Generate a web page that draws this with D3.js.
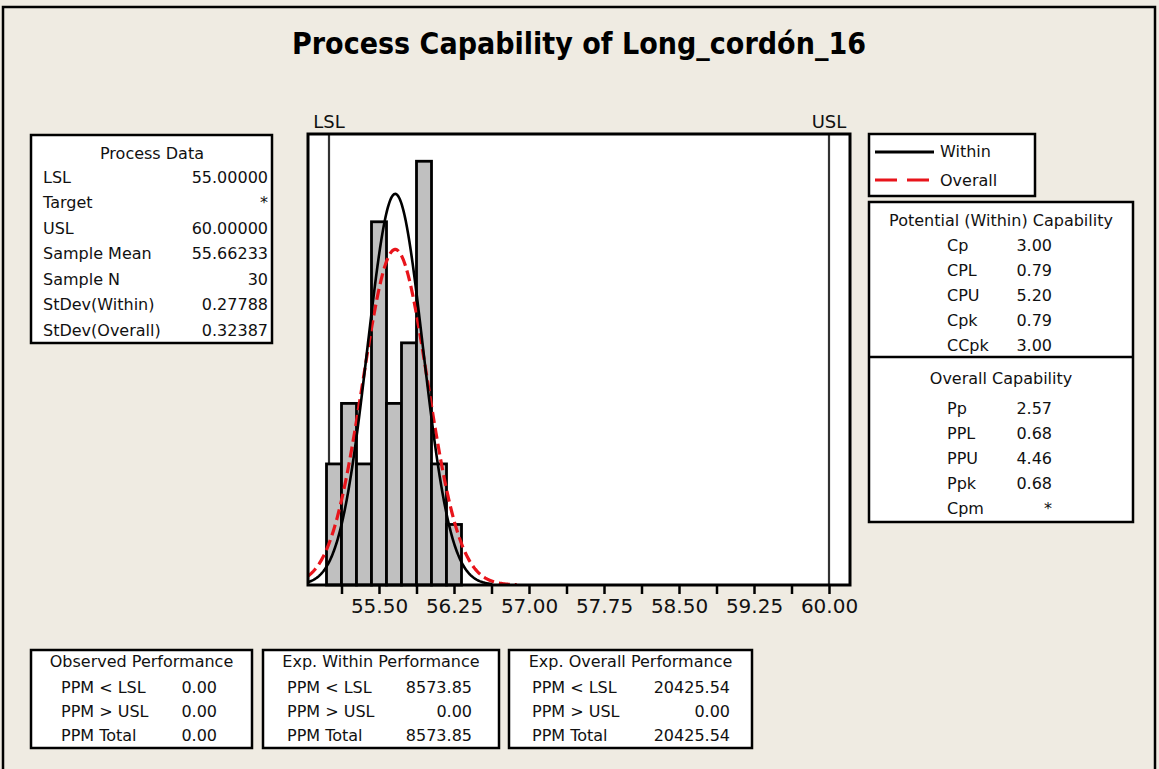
<!DOCTYPE html>
<html lang="en">
<head>
  <meta charset="utf-8" />
  <title>Process Capability of Long_cordón_16</title>
  <script src="https://d3js.org/d3.v7.min.js"></script>
  <style>
    body{margin:0;background:#efebe2;overflow:hidden;}
    svg{display:block;font-family:"DejaVu Sans",Verdana,sans-serif;}
    .box{fill:#fff;stroke:#000;stroke-width:2.5;}
    .t{font-size:16px;fill:#111;dominant-baseline:central;}
    .axis text{font-size:20px;fill:#111;font-family:"DejaVu Sans",Verdana,sans-serif;}
    .axis line{stroke:#000;stroke-width:2.5;}
  </style>
</head>
<body>
<svg id="chart" width="1159" height="769"></svg>
<script>
// -------------- DATA --------------
const TITLE='Process Capability of Long_cordón_16';
const LSL=55, USL=60, N=30;
const MEAN=55.66233, SD_WITHIN=0.27788, SD_OVERALL=0.32387;
const BIN_WIDTH=0.15;
const binMids=[55.05,55.20,55.35,55.50,55.65,55.80,55.95,56.10,56.25];
const binCounts=[2,3,2,6,3,4,7,2,1];

const tickValues=[55.125,55.5,55.875,56.25,56.625,57.0,57.375,57.75,58.125,58.5,58.875,59.25,59.625,60.0];
const tickLabels=['55.50','56.25','57.00','57.75','58.50','59.25','60.00'];

const processLabels=['LSL','Target','USL','Sample Mean','Sample N','StDev(Within)','StDev(Overall)'];
const processValues=['55.00000','*','60.00000','55.66233','30','0.27788','0.32387'];

const potentialLabels=['Cp','CPL','CPU','Cpk','CCpk'];
const potentialValues=['3.00','0.79','5.20','0.79','3.00'];
const overallLabels=['Pp','PPL','PPU','Ppk','Cpm'];
const overallValues=['2.57','0.68','4.46','0.68','*'];

const perfTitles=['Observed Performance','Exp. Within Performance','Exp. Overall Performance'];
const perfLabels=['PPM < LSL','PPM > USL','PPM Total'];
const perfObserved=['0.00','0.00','0.00'];
const perfWithin=['8573.85','0.00','8573.85'];
const perfOverall=['20425.54','0.00','20425.54'];

// -------------- LAYOUT --------------
const svg=d3.select('#chart');
const plot={left:308,top:134,right:850,bottom:585};
const x=d3.scaleLinear().domain([54.79,60.21]).range([plot.left,plot.right]);
const y=d3.scaleLinear().domain([0,7.45]).range([plot.bottom,plot.top]);

// outer frame
svg.append('rect').attr('x',3).attr('y',7).attr('width',1152).attr('height',780)
  .attr('fill','#efebe2').attr('stroke','#000').attr('stroke-width',2.5);

// title
svg.append('text').attr('x',579).attr('y',54).attr('text-anchor','middle')
  .attr('textLength',574).attr('lengthAdjust','spacingAndGlyphs')
  .style('font-size','30px').style('font-weight','bold').style('fill','#000')
  .text(TITLE);

// -------------- PLOT --------------
svg.append('defs').append('clipPath').attr('id','clip').append('rect')
  .attr('x',plot.left).attr('y',plot.top).attr('width',plot.right-plot.left).attr('height',plot.bottom-plot.top);

svg.append('rect').attr('x',plot.left).attr('y',plot.top)
  .attr('width',plot.right-plot.left).attr('height',plot.bottom-plot.top).attr('fill','#fff');

// spec limit lines + labels
[[LSL,'LSL'],[USL,'USL']].forEach(([v,lab])=>{
  svg.append('line').attr('x1',x(v)).attr('x2',x(v)).attr('y1',plot.top).attr('y2',plot.bottom)
    .attr('stroke','#333').attr('stroke-width',2.2);
  svg.append('text').attr('x',x(v)).attr('y',121).attr('text-anchor','middle')
    .attr('dominant-baseline','central').style('font-size','18px').style('fill','#111').text(lab);
});

// histogram
svg.append('g').selectAll('rect').data(binMids).join('rect')
  .attr('x',d=>x(d-BIN_WIDTH/2)).attr('width',d=>x(d+BIN_WIDTH/2)-x(d-BIN_WIDTH/2))
  .attr('y',(d,i)=>y(binCounts[i])).attr('height',(d,i)=>y(0)-y(binCounts[i]))
  .attr('fill','#c0c0c0').attr('stroke','#000').attr('stroke-width',2.8);

// fitted normal curves (scaled to counts)
function curve(sd,xEnd){
  const pts=[];
  const x0=x.domain()[0];
  for(let i=0;i<=300;i++){
    const v=x0+(xEnd-x0)*i/300;
    const z=(v-MEAN)/sd;
    pts.push([v,N*BIN_WIDTH*Math.exp(-z*z/2)/(sd*Math.sqrt(2*Math.PI))]);
  }
  return pts;
}
const line=d3.line().x(d=>x(d[0])).y(d=>y(d[1]));
const cg=svg.append('g').attr('clip-path','url(#clip)');
cg.append('path').datum(curve(SD_OVERALL,MEAN+3.75*SD_OVERALL)).attr('d',line)
  .attr('fill','none').attr('stroke','#e8141b').attr('stroke-width',3.2).attr('stroke-dasharray','11,5');
cg.append('path').datum(curve(SD_WITHIN,MEAN+3.5*SD_WITHIN)).attr('d',line)
  .attr('fill','none').attr('stroke','#000').attr('stroke-width',2.6);

// plot border
svg.append('rect').attr('x',plot.left).attr('y',plot.top)
  .attr('width',plot.right-plot.left).attr('height',plot.bottom-plot.top)
  .attr('fill','none').attr('stroke','#000').attr('stroke-width',3);

// x axis
const ax=svg.append('g').attr('class','axis').attr('transform',`translate(0,${plot.bottom})`)
  .call(d3.axisBottom(x).tickValues(tickValues).tickSize(9).tickPadding(5)
    .tickFormat(d=>{const s=d.toFixed(2);return tickLabels.includes(s)?s:'';}));
ax.select('.domain').remove();

// -------------- TEXT BOXES --------------
function box(x0,y0,x1,y1){
  svg.append('rect').attr('class','box').attr('x',x0).attr('y',y0).attr('width',x1-x0).attr('height',y1-y0);
}
function txt(xp,yp,s,anchor){
  svg.append('text').attr('class','t').attr('x',xp).attr('y',yp).attr('text-anchor',anchor||'start').text(s);
}

// Process data
box(31,135,272,343);
txt(152,153,'Process Data','middle');
processLabels.forEach((l,i)=>{
  const yy=177+i*25.5;
  txt(43,yy,l); txt(268,yy,processValues[i],'end');
});

// Legend
box(869,134,1035,196);
svg.append('line').attr('x1',875).attr('x2',934).attr('y1',152).attr('y2',152).attr('stroke','#000').attr('stroke-width',2.8);
svg.append('line').attr('x1',875).attr('x2',934).attr('y1',180).attr('y2',180).attr('stroke','#e8141b').attr('stroke-width',3.2).attr('stroke-dasharray','22,10');
txt(940,151,'Within'); txt(940,180,'Overall');

// Capability
box(869,202,1133,522);
svg.append('line').attr('x1',869).attr('x2',1133).attr('y1',357).attr('y2',357).attr('stroke','#000').attr('stroke-width',2.5);
txt(1001,220,'Potential (Within) Capability','middle');
potentialLabels.forEach((l,i)=>{
  const yy=245+i*25.2;
  txt(947,yy,l); txt(1052,yy,potentialValues[i],'end');
});
txt(1001,378,'Overall Capability','middle');
overallLabels.forEach((l,i)=>{
  const yy=408+i*25;
  txt(947,yy,l); txt(1052,yy,overallValues[i],'end');
});

// Performance boxes
const perfBoxes=[
  {x0:31,x1:252,lx:61,vx:217,vals:perfObserved},
  {x0:263,x1:499,lx:287,vx:472,vals:perfWithin},
  {x0:509,x1:752,lx:532,vx:730,vals:perfOverall}
];
perfBoxes.forEach((b,j)=>{
  box(b.x0,650,b.x1,748);
  txt((b.x0+b.x1)/2,661,perfTitles[j],'middle');
  perfLabels.forEach((l,i)=>{
    const yy=687+i*24;
    txt(b.lx,yy,l); txt(b.vx,yy,b.vals[i],'end');
  });
});
</script>
</body>
</html>
